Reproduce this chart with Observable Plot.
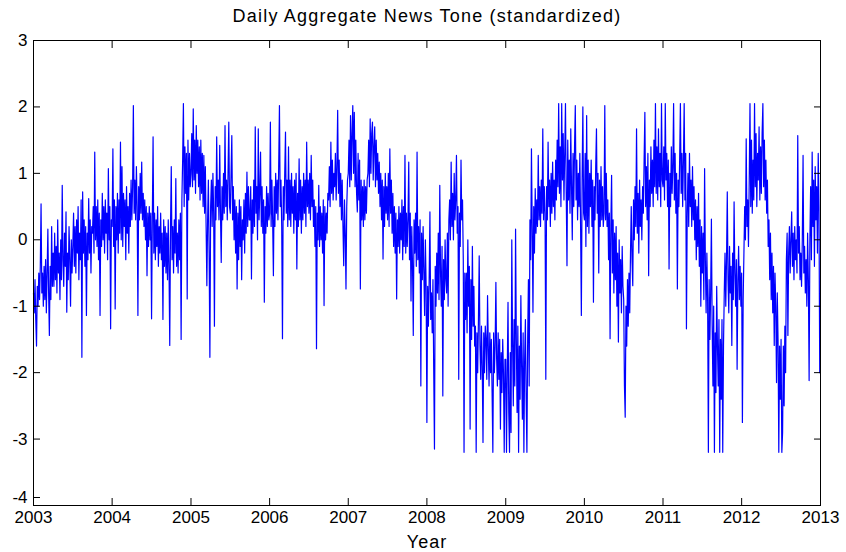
<!DOCTYPE html>
<html>
<head>
<meta charset="utf-8">
<script src="https://cdn.jsdelivr.net/npm/d3@7"></script>
<script src="https://cdn.jsdelivr.net/npm/@observablehq/plot@0.6"></script>
<style>
  html, body { margin: 0; padding: 0; background: #fff; }
</style>
</head>
<body>
<div id="chart"></div>
<script>
// Readings of the standardized daily news tone, ~2 per week (104 per year)
const y2003 = [-0.8,-1.1,-0.6,-1.2,-1.6,-0.7,-1.0,-0.5,-0.9,-0.4,0.54,-0.8,-0.5,-1.0,-0.4,-0.9,-0.3,-1.1,-0.5,0.16,-0.8,-1.44,-0.4,-0.9,0.2,-0.7,
  -0.2,-0.7,0.1,-0.6,-0.1,-0.8,0.3,-0.5,-0.2,-0.9,0.0,-0.6,0.82,-0.3,-0.7,0.1,-0.4,0.42,-1.09,-0.2,-0.6,0.2,-0.3,-1.0,0.0,-0.5,
  -0.1,0.4,-0.4,0.2,-0.5,0.3,-0.2,0.5,-0.6,0.1,-0.3,0.6,-1.77,0.72,-0.2,0.3,-0.4,0.2,-1.14,0.1,-0.3,0.62,-0.2,0.3,-0.5,0.2,
  0.1,0.5,-0.2,1.32,0.0,0.5,-0.1,0.6,-0.3,0.4,-1.14,0.3,-0.1,0.7,0.0,0.5,-0.2,0.6,0.1,0.4,-0.3,1.07,0.0,0.5,-1.34,0.3];
const y2004 = [0.2,1.37,-0.1,0.6,-1.04,0.5,0.0,0.7,-0.2,0.6,0.1,1.47,0.0,1.1,-0.1,0.7,0.2,0.6,-0.3,0.8,0.1,0.5,-0.2,0.7,0.2,0.9,
  0.3,0.8,2.02,0.4,0.9,0.3,1.1,0.5,-1.14,0.8,0.3,1.0,0.4,1.17,0.3,0.7,0.2,0.6,0.0,0.5,-0.54,0.4,-0.1,0.5,0.0,0.4,
  -1.19,0.3,1.55,-0.2,0.4,-0.3,0.3,-0.1,0.5,-0.4,0.2,-0.2,0.4,-0.3,0.1,-1.2,0.3,-0.4,0.2,-0.5,0.1,-0.6,0.3,-0.4,-1.59,0.2,
  1.1,-0.3,0.2,-0.5,0.3,-0.2,0.92,-0.4,0.1,-0.5,0.3,-0.3,0.4,-1.5,0.6,1.2,2.05,0.5,1.4,0.7,1.3,-0.89,1.5,0.6,1.3,0.8];
const y2005 = [1.0,1.6,0.8,1.97,0.9,1.5,0.7,1.72,1.0,1.5,0.8,1.4,0.6,1.5,0.7,1.3,0.5,1.27,0.4,1.1,0.2,-0.69,0.3,0.9,-0.2,-1.77,
  0.5,0.9,0.2,1.0,0.4,-1.3,0.8,0.3,1.55,0.5,0.9,0.3,1.42,0.4,-0.34,0.8,0.3,1.0,0.4,1.72,0.5,0.9,0.3,1.0,1.77,0.5,
  0.4,1.0,1.57,0.3,0.8,0.0,0.6,-0.2,0.5,-0.74,0.4,-0.3,0.6,-0.1,0.5,-0.6,0.3,0.0,0.6,-0.2,0.7,0.1,1.02,0.2,0.8,0.3,
  0.3,0.8,-0.59,0.6,0.1,0.9,0.2,1.7,0.4,0.8,0.0,1.67,0.3,0.7,1.32,0.2,0.8,0.1,0.6,-0.94,0.5,0.1,0.8,0.2,0.7,0.3];
const y2006 = [0.4,1.77,0.2,0.9,0.3,-0.54,0.8,0.2,1.0,0.4,0.9,0.3,1.1,2.02,0.5,0.9,0.2,-1.49,0.8,0.3,1.0,1.62,0.4,0.9,0.2,1.4,
  0.3,0.9,0.2,1.0,0.4,0.8,0.1,0.9,0.3,1.0,-0.44,0.7,0.2,1.22,0.3,0.9,0.1,0.8,0.3,1.0,0.4,0.9,0.2,1.47,0.5,0.9,
  0.4,1.0,0.3,1.27,0.5,0.9,0.2,0.6,-0.1,0.5,-1.64,0.4,0.0,0.82,-0.1,0.5,0.0,0.4,-0.2,0.6,-0.99,0.5,0.0,0.4,0.1,0.7,
  0.6,1.1,0.5,1.47,0.7,1.2,0.6,1.0,0.8,1.3,0.6,1.1,1.95,0.7,1.2,0.5,1.0,0.3,0.9,0.2,-0.39,0.6,0.1,-0.74,0.5,0.9];
const y2007 = [1.0,1.5,0.8,1.87,0.9,1.6,2.02,1.0,1.92,0.8,1.5,0.7,0.42,1.3,0.6,1.2,-0.74,0.9,0.3,0.8,0.2,0.9,0.3,0.8,0.4,0.9,
  1.0,1.5,0.8,1.82,1.0,1.6,1.77,0.9,1.4,1.7,0.8,1.5,0.9,1.3,0.7,1.17,0.5,1.0,0.3,0.9,-0.29,0.8,0.2,1.0,0.4,0.8,
  0.3,1.0,0.2,1.37,0.4,0.9,0.1,0.7,-0.1,0.5,-0.2,0.4,-0.89,0.3,-0.1,0.5,-0.2,0.4,0.0,0.6,-0.3,0.5,-0.1,1.27,-0.2,0.4,
  -0.1,0.3,1.17,-0.3,0.4,-0.92,0.2,-0.4,-1.44,0.3,-0.2,0.4,-0.4,1.32,-0.3,0.2,-0.5,0.3,-2.2,0.1,-0.6,0.2,-0.5,-1.14,0.0,-0.7];
const y2008 = [-2.75,-0.7,-1.3,-0.6,0.42,-1.2,-0.8,-1.4,-0.6,-1.95,-3.15,-0.4,-1.0,-0.2,-0.8,0.1,-0.9,0.82,-0.5,-1.0,-0.1,-2.35,-0.3,-0.9,0.0,-0.6,
  -0.8,0.1,-1.0,0.3,0.6,0.0,1.17,0.2,0.7,0.0,1.0,0.3,0.6,1.27,0.1,0.5,-2.1,0.4,-0.1,1.2,0.3,0.6,-0.3,-3.2,-0.5,-1.2,
  -0.5,-1.4,0.0,-1.0,-0.4,-2.85,-0.6,-1.5,-0.1,-1.3,-0.7,-1.6,-1.3,-3.2,-1.4,-2.0,-1.2,-0.24,-1.6,-2.1,-1.3,-1.9,-3.05,-1.4,-2.0,-1.3,
  -1.5,-2.1,-0.84,-1.6,-2.2,-1.4,-2.0,-1.5,-2.3,-3.2,-1.4,-2.0,-1.6,-0.64,-1.8,-2.2,-1.4,-2.1,-1.5,-2.85,-1.7,-2.3,-1.5,-2.0,-3.2,-1.8];
const y2009 = [-1.8,-3.2,-2.0,-0.94,-2.6,-3.2,-1.7,-2.9,0.0,-1.5,-2.5,-1.2,-2.2,0.16,-1.5,-2.6,-1.3,-3.2,-1.6,-2.4,-0.84,-1.9,-2.7,-1.4,-3.2,-1.8,
  -1.2,-2.4,-3.2,-1.5,-0.6,-2.2,0.3,-0.3,1.37,0.2,-1.09,0.5,-0.2,0.77,0.1,0.6,0.2,1.27,0.3,0.8,0.2,0.9,0.4,1.67,0.3,0.8,
  0.4,-2.1,0.8,0.3,1.47,0.5,0.9,0.2,1.0,0.4,1.17,0.5,0.9,0.3,1.2,0.6,1.5,0.8,2.05,0.7,1.4,0.5,2.05,0.9,1.6,0.6,
  1.3,2.05,0.7,-0.39,1.5,0.6,1.2,0.4,1.67,0.8,0.0,1.3,0.5,1.4,2.02,0.6,1.2,0.3,1.0,0.5,1.3,0.2,-1.14,0.9,2.0,0.4];
const y2010 = [0.3,1.3,-0.1,1.87,0.2,1.2,0.1,1.0,0.5,1.2,0.2,0.9,-0.94,0.8,0.3,1.1,1.67,0.4,1.0,-0.5,0.9,0.2,1.1,0.3,0.8,0.2,
  0.4,2.02,0.3,1.0,0.2,0.6,-0.3,0.4,-1.49,0.2,0.97,-0.5,0.3,-0.8,0.1,-0.6,0.2,-1.0,-0.2,-1.54,0.0,-0.8,-0.3,-1.1,-0.1,-0.7,
  -0.9,-2.2,-2.67,-1.0,-1.6,-0.6,-1.3,-0.5,-1.1,-0.2,0.5,-0.3,-0.69,0.6,0.0,0.8,0.2,1.67,0.1,0.7,-0.2,0.9,0.2,0.6,0.0,0.8,
  0.4,1.2,1.92,0.5,1.1,0.3,1.3,-0.54,0.9,0.5,1.4,0.7,1.2,0.5,1.5,0.8,2.05,0.7,1.4,0.6,1.67,0.8,1.3,0.5,2.05,0.9];
const y2011 = [0.8,1.4,0.6,2.05,0.9,1.3,0.5,1.2,-0.44,1.0,0.5,1.4,0.7,1.1,2.05,0.6,1.3,0.4,1.0,-0.74,0.9,0.5,1.2,2.05,0.7,1.3,
  0.5,1.2,2.05,0.6,1.3,-1.34,0.4,1.0,0.2,1.3,0.5,0.9,0.2,1.1,0.3,0.8,0.0,0.6,-0.3,0.5,-0.1,0.7,-0.4,0.3,-1.0,0.2,
  -0.5,0.1,-0.9,1.07,-0.3,-1.1,-0.2,-0.9,-3.2,-0.6,-1.5,-0.8,0.31,-1.3,-2.2,-1.0,-3.2,-1.4,-2.3,-0.7,-1.6,-2.2,-1.2,-3.2,-1.5,-2.4,
  -1.2,-3.2,-1.6,-0.8,-0.2,-1.0,-0.3,0.72,-0.6,-1.1,-0.1,-0.8,-0.4,-1.59,-0.2,-0.9,0.57,-0.5,-1.0,-0.3,-1.95,-0.6,-0.1,-0.9,-0.4,-1.0];
const y2012 = [-0.5,-2.75,-0.9,-0.2,0.5,0.0,1.52,0.2,0.6,-0.1,0.9,2.05,0.5,1.5,0.4,1.2,0.6,2.05,0.8,1.6,0.5,1.3,0.9,1.7,0.6,1.4,
  0.7,1.6,2.05,0.8,1.5,0.6,1.2,0.4,0.9,-0.1,0.3,-0.6,0.1,-0.9,-0.2,-1.1,-0.4,-1.59,-0.5,-1.0,-2.15,-0.8,-1.5,-3.2,-1.6,-2.4,
  -1.5,-3.2,-2.9,-1.6,-2.5,-1.3,-2.0,-0.3,0.1,-1.44,-0.2,0.2,-0.5,0.0,0.42,-0.4,0.1,-0.6,0.2,-0.3,0.0,-0.5,1.57,-0.2,0.2,-0.6,
  -0.2,-0.7,0.0,1.27,-0.5,-0.1,-0.8,-0.3,-1.0,0.1,-0.6,-2.12,0.0,0.8,-0.3,1.32,0.2,0.9,-0.4,1.1,0.3,0.8,-0.2,1.3,0.5,-2.0];

const seriesByYear = [
  [2003, y2003], [2004, y2004], [2005, y2005], [2006, y2006], [2007, y2007],
  [2008, y2008], [2009, y2009], [2010, y2010], [2011, y2011], [2012, y2012]
];

const tickYears = [2003, 2004, 2005, 2006, 2007, 2008, 2009, 2010, 2011, 2012, 2013];
const yTicks = [-3, -2, -1, 0, 1, 2, 3];
const yTickBottom = [-4];
const titleText = "Daily Aggregate News Tone (standardized)";
const xLabel = "Year";

const data = [];
for (const [yr, vals] of seriesByYear) {
  const t0 = Date.UTC(yr, 0, 1), t1 = Date.UTC(yr + 1, 0, 1);
  vals.forEach((v, i) => {
    data.push({date: new Date(t0 + (t1 - t0) * i / vals.length), value: v});
  });
}
const yearDates = tickYears.map(y => new Date(Date.UTC(y, 0, 1)));
const fmtYear = d3.utcFormat("%Y");
const fmtInt = d => String(d);

const chart = Plot.plot({
  width: 846,
  height: 552,
  marginLeft: 33,
  marginRight: 26,
  marginTop: 40,
  marginBottom: 47,
  style: {fontFamily: "'Liberation Sans', Arial, Helvetica, sans-serif", fontSize: "17px", background: "#fff", color: "#000"},
  x: {type: "utc", domain: [yearDates[0], yearDates[yearDates.length - 1]]},
  y: {domain: [-4, 3]},
  marks: [
    Plot.line(data, {x: "date", y: "value", stroke: "#0000ff", strokeWidth: 1.2}),
    Plot.frame({stroke: "#000"}),
    Plot.axisX({anchor: "bottom", ticks: yearDates, tickFormat: fmtYear, tickSize: -7, tickPadding: 12, label: null}),
    Plot.axisX({anchor: "top", ticks: yearDates, tickFormat: () => "", tickSize: -7, label: null}),
    Plot.axisY({anchor: "left", ticks: yTicks, tickFormat: fmtInt, tickSize: -7, tickPadding: 13, label: null}),
    Plot.axisY({anchor: "left", ticks: yTickBottom, tickFormat: fmtInt, tickSize: -7, tickPadding: 13, dy: -8, label: null}),
    Plot.axisY({anchor: "right", ticks: yTicks.concat(yTickBottom), tickFormat: () => "", tickSize: -7, label: null}),
    Plot.text([titleText], {text: d => d, frameAnchor: "top", dy: -31, fontSize: 18}),
    Plot.text([xLabel], {text: d => d, frameAnchor: "bottom", dy: 42, fontSize: 18})
  ]
});
d3.select(chart).selectAll("text")
  .filter(function() { return this.textContent === titleText; })
  .attr("letter-spacing", "1.2px");
d3.select(chart).selectAll("text")
  .filter(function() { return this.textContent === xLabel; })
  .attr("letter-spacing", "1px");
document.getElementById("chart").appendChild(chart);
</script>
</body>
</html>
